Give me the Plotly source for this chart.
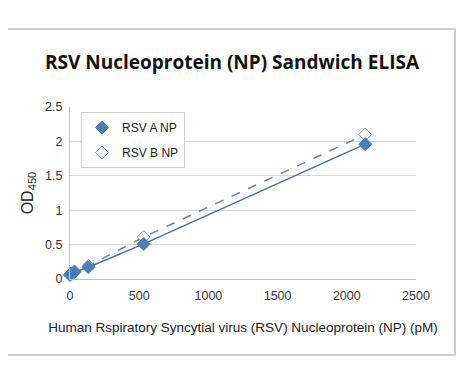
import plotly.graph_objects as go

conc = [0, 8.3, 33, 133, 533, 2133]
rsv_a = [0.06, 0.08, 0.10, 0.17, 0.51, 1.96]
rsv_b = [0.06, 0.08, 0.11, 0.19, 0.61, 2.10]
x_ticks = [0, 500, 1000, 1500, 2000, 2500]
y_ticks = [0, 0.5, 1, 1.5, 2, 2.5]

A_MARK = dict(symbol="diamond", size=10, color="#4a7ebb", line=dict(color="#4a7ebb", width=1))
B_MARK = dict(symbol="diamond", size=10, color="white", line=dict(color="#6b8bb0", width=1))

fig = go.Figure()
fig.add_trace(go.Scatter(
    x=conc, y=rsv_b, name="RSV B NP", mode="lines+markers", showlegend=False, cliponaxis=False,
    line=dict(color="#6b7f96", width=1.5, dash="dash"), marker=B_MARK,
))
fig.add_trace(go.Scatter(
    x=conc, y=rsv_a, name="RSV A NP", mode="lines+markers", showlegend=False, cliponaxis=False,
    line=dict(color="#4a6f9c", width=1.5), marker=A_MARK,
))
# legend entries (markers only, as in the reference legend)
fig.add_trace(go.Scatter(x=[None], y=[None], name="RSV A NP", mode="markers",
                         marker=A_MARK, legendgroup="a"))
fig.add_trace(go.Scatter(x=[None], y=[None], name="RSV B NP", mode="markers",
                         marker=B_MARK, legendgroup="b"))

# the page body adds an 8px offset; figure is sized to compensate
W, H = 457, 371
fig.update_layout(
    width=W, height=H,
    margin=dict(l=62, r=49, t=99, b=100),
    paper_bgcolor="white", plot_bgcolor="white",
    font=dict(family="Liberation Sans, Arial", color="#333333", size=12),
    title=dict(text="<b>RSV Nucleoprotein (NP) Sandwich ELISA</b>",
               x=224 / W, xanchor="center", xref="container",
               y=1 - 54 / H, yanchor="middle", yref="container",
               font=dict(family="Open Sans, Noto Sans", size=19, color="#111111")),
    xaxis=dict(range=[0, 2500], tickvals=x_ticks, showgrid=False, zeroline=False,
               showline=True, linecolor="#bfbfbf", linewidth=1,
               ticks="", ticklabelstandoff=5, tickfont=dict(size=12.5, color="#333333"),
               title=dict(text="Human Rspiratory Syncytial virus (RSV) Nucleoprotein (NP) (pM)",
                          font=dict(size=13.5, color="#222222"), standoff=20)),
    yaxis=dict(range=[0, 2.5], tickvals=y_ticks, showgrid=True, gridcolor="#d9d9d9",
               zeroline=False, showline=True, linecolor="#bfbfbf", linewidth=1,
               ticks="", ticklabelstandoff=4, tickfont=dict(size=12.5, color="#333333"),
               title=dict(text="OD<sub>450</sub>", font=dict(size=16, color="#222222"), standoff=7)),
    legend=dict(x=0.032, y=0.971, xanchor="left", yanchor="top",
                bgcolor="white", bordercolor="#cfcfcf", borderwidth=1,
                font=dict(size=12, color="#222222"), itemwidth=30,
                traceorder="grouped", tracegroupgap=6),
    showlegend=True,
)

fig.add_shape(type="rect", xref="paper", yref="paper",
              x0=-0.185, x1=1.113, y0=-0.442, y1=1.453,
              line=dict(color="#bdbdbd", width=1.5), fillcolor="rgba(0,0,0,0)", layer="below")

fig.write_html("out.html")
